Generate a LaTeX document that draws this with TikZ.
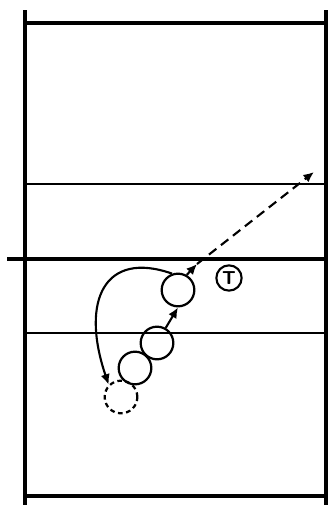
\documentclass[tikz,border=0pt]{standalone}
\usetikzlibrary{arrows.meta}
\begin{document}
\begin{tikzpicture}
  [x=0.03cm,y=-0.03cm,
   court/.style={line width=3.8pt},
   zone/.style={line width=1.8pt},
   player/.style={circle,draw=black,line width=1.9pt,minimum size=0.98cm,inner sep=0pt},
   ghost/.style={player,dash pattern=on 4pt off 3pt},
   coach/.style={circle,draw=black,line width=1.8pt,minimum size=0.76cm,inner sep=0pt,font=\sffamily\bfseries\fontsize{16}{16}\selectfont},
   move/.style={line width=1.8pt,-{Latex[length=9pt,width=8pt]}}]
  \useasboundingbox (0,0) rectangle (327,505);

  % court
  \draw[court] (25,10) -- (25,505);
  \draw[court] (326,10) -- (326,505);
  \draw[court] (25,23) -- (327,23);
  \draw[court] (25,496) -- (327,496);
  \draw[court] (7,259) -- (327,259);
  \draw[zone] (25,184) -- (327,184);
  \draw[zone] (25,333) -- (327,333);

  % players
  \node[player] (p1) at (178,290) {};
  \node[player] (p2) at (157,343) {};
  \node[player] (p3) at (135,368) {};
  \node[ghost] (p4) at (121,397) {};
  \node[coach] (t) at (229,278) {T};

  \coordinate (c1) at (197,264);
  \coordinate (c2) at (314,172);

  \draw[move] (p2.60) -- (p1.south);
  \draw[move] (p1.60) -- (c1);
  \draw[move,dash pattern=on 8pt off 5pt] (c1) -- (c2);
  \draw[move] (p1.110) .. controls (105,250) and (80,300) .. (p4.135);

\end{tikzpicture}
\end{document}
